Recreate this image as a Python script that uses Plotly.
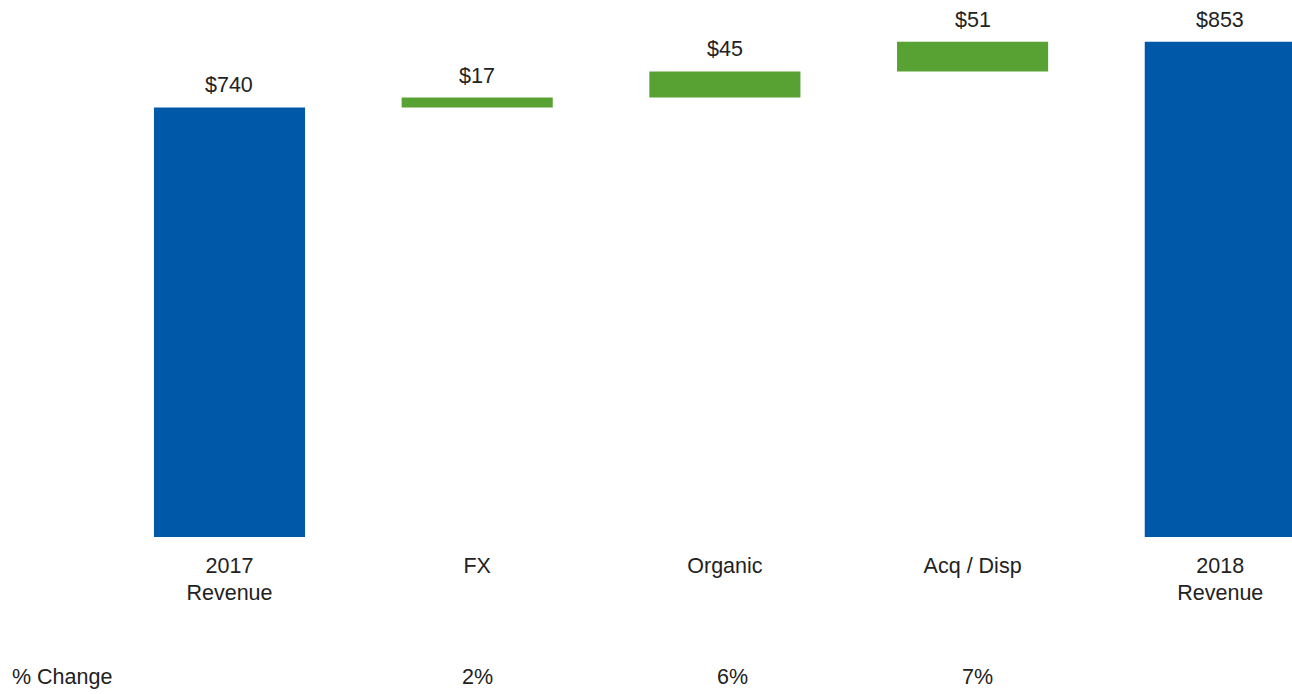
import plotly.graph_objects as go

categories = ["2017<br>Revenue", "FX", "Organic", "Acq / Disp", "2018<br>Revenue"]
measures = ["absolute", "relative", "relative", "relative", "total"]
values = [740, 17, 45, 51, 853]
value_labels = ["$740", "$17", "$45", "$51", "$853"]
pct_labels = ["", "2%", "6%", "7%", ""]
pct_title = "% Change"

BLUE = "#0058A8"
GREEN = "#58A133"
TXT = "#222222"
FONT = "Liberation Sans, Arial, sans-serif"
FS = 21.5

xs = list(range(len(categories)))

fig = go.Figure()
fig.add_trace(go.Waterfall(
    x=xs, y=values, measure=measures, width=0.61,
    increasing=dict(marker=dict(color=GREEN)),
    decreasing=dict(marker=dict(color=GREEN)),
    totals=dict(marker=dict(color=BLUE)),
    connector=dict(visible=False),
    showlegend=False, hoverinfo="skip",
))

# bar tops for labels
tops = []
run = 0
for m, v in zip(measures, values):
    if m == "absolute":
        run = v
    elif m == "relative":
        run += v
    tops.append(run)

for x, t, lab in zip(xs, tops, value_labels):
    fig.add_annotation(x=x, y=t, text=lab, showarrow=False, yanchor="middle",
                       yshift=22, font=dict(size=FS, color=TXT, family=FONT))

pct_shift = [0, 0, 8, 5, 0]
for x, lab, s in zip(xs, pct_labels, pct_shift):
    if lab:
        fig.add_annotation(x=x, xref="x", y=-0.2614, yref="paper", text=lab,
                           showarrow=False, yanchor="middle", xanchor="center", xshift=s,
                           font=dict(size=FS, color=TXT, family=FONT))
fig.add_annotation(x=10 / 1292, xref="paper", y=-0.2614, yref="paper", text=pct_title,
                   showarrow=False, xanchor="left", yanchor="middle",
                   font=dict(size=FS, color=TXT, family=FONT))

fig.update_layout(
    width=1292, height=694,
    margin=dict(l=0, r=0, t=0, b=156.5),
    paper_bgcolor="white", plot_bgcolor="white",
    font=dict(family=FONT, size=FS, color=TXT),
    xaxis=dict(range=[-0.9265, 4.2895], tickvals=xs, ticktext=categories,
               showgrid=False, zeroline=False, showline=False, ticks="",
               ticklabelstandoff=13,
               tickfont=dict(size=FS, color=TXT, family=FONT)),
    yaxis=dict(range=[0, 925], visible=False, showgrid=False, zeroline=False),
)

fig.write_html("out.html", config={"displayModeBar": False},
               post_script="document.body.style.margin='0';document.body.style.overflow='hidden';")
